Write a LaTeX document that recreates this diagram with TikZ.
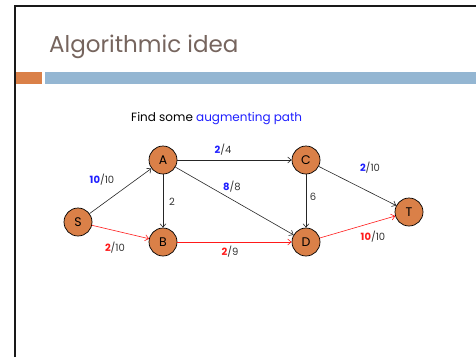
\documentclass[tikz,border=0pt]{standalone}
\usepackage{fontspec}
\setmainfont{Poppins}
\usetikzlibrary{arrows.meta}
\definecolor{nodeor}{HTML}{DA8048}
\definecolor{barblue}{HTML}{94B6D2}
\definecolor{titlegray}{HTML}{76655E}
\definecolor{augblue}{HTML}{1F1FFF}
\definecolor{flowred}{HTML}{FF1A1A}
\tikzset{
  vert/.style={circle,draw=black,line width=0.7pt,fill=nodeor,minimum size=28pt,inner sep=0pt,font=\fontsize{12.5}{14}\selectfont},
  edge/.style={-{Straight Barb[length=3.5pt,width=6pt]},line width=0.6pt,draw=black!85},
  redge/.style={edge,draw=flowred},
  elab/.style={font=\fontsize{10}{12}\selectfont,text=black!80,inner sep=0pt}
}
\newcommand{\fl}[3]{\textcolor{#1}{\textbf{#2}}/#3}
\begin{document}
\begin{tikzpicture}[x=1pt,y=-1pt]
\useasboundingbox (0,0) rectangle (476,357);
% slide frame
\draw[line width=2pt,black!90] (15,357) -- (15,6) -- (476,6);
\fill[nodeor] (16,72) rectangle (42,84);
\fill[barblue] (45,72) rectangle (476,84);
\node[anchor=base west,inner sep=0pt,text=titlegray,font=\fontsize{23}{27}\selectfont] (title) at (49,52) {Algorithmic idea};
\node[anchor=base west,inner sep=0pt,font=\fontsize{12}{14}\selectfont] (find) at (131,121) {Find some \textcolor{augblue}{augmenting path}};
% vertices
\node[vert] (S) at (78,222) {S};
\node[vert] (A) at (163,160) {A};
\node[vert] (B) at (163,242) {B};
\node[vert] (C) at (306,160) {C};
\node[vert] (D) at (306,242) {D};
\node[vert] (T) at (409,212) {T};
% edges
\draw[edge] (S) -- (A);
\draw[redge] (S) -- (B);
\draw[edge] (A) -- (B);
\draw[edge] (A) -- (C);
\draw[edge] (A) -- (D);
\draw[redge] (B) -- (D);
\draw[edge] (C) -- (D);
\draw[edge] (C) -- (T);
\draw[redge] (D) -- (T);
% labels
\node[elab] (lSA) at (102,180) {\fl{augblue}{10}{10}};
\node[elab] (lSB) at (115,248) {\fl{flowred}{2}{10}};
\node[elab] (lAB) at (172,202) {2};
\node[elab] (lAC) at (223,150) {\fl{augblue}{2}{4}};
\node[elab] (lAD) at (232,187) {\fl{augblue}{8}{8}};
\node[elab] (lBD) at (230,252) {\fl{flowred}{2}{9}};
\node[elab] (lCD) at (313,197) {6};
\node[elab] (lCT) at (370,168) {\fl{augblue}{2}{10}};
\node[elab] (lDT) at (373,237) {\fl{flowred}{10}{10}};
\end{tikzpicture}
\end{document}
